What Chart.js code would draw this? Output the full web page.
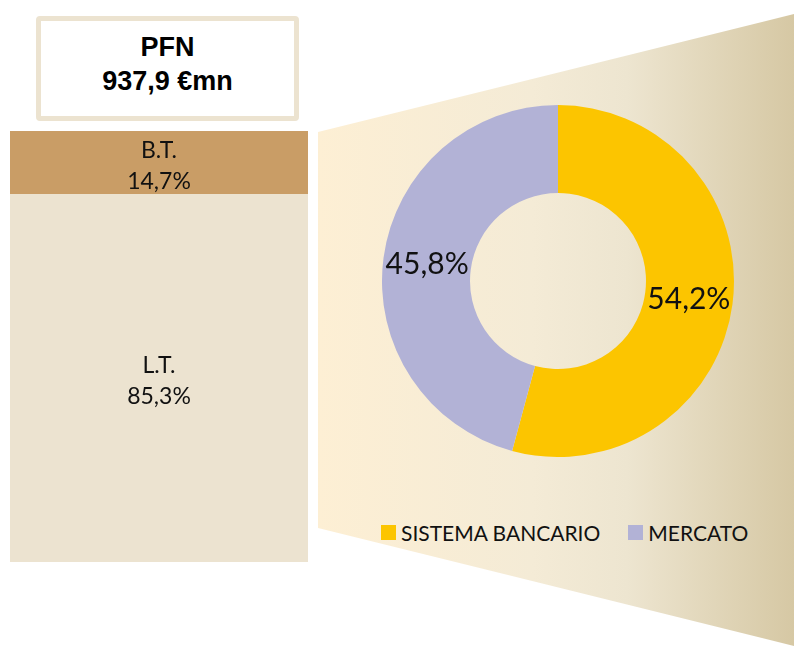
<!DOCTYPE html>
<html>
<head>
<meta charset="utf-8">
<script src="https://cdn.jsdelivr.net/npm/chart.js@4"></script>
<style>
  body { margin: 0; background: #fff; width: 794px; height: 646px; position: relative; overflow: hidden; font-family: Lato, "Open Sans", sans-serif; }
  #titleBox {
    position: absolute; left: 36px; top: 16px; width: 253px; height: 86px;
    border: 5px solid #ece3d0; border-radius: 4px; background: #fff;
    font-family: "Liberation Sans", Arial, sans-serif; font-weight: bold; font-size: 27px;
    text-align: center; line-height: 34px; padding-top: 9px; box-sizing: content-box;
  }
  #titleBox div { height: 34px; }
  #bg {
    position: absolute; left: 318px; top: 0; width: 476px; height: 646px;
    background: linear-gradient(to right, #fdefd4 0%, #f4ebd6 45%, #ede5d0 65%, #d6c8a4 100%);
    clip-path: polygon(0 132px, 476px 14px, 476px 646px, 0 528px);
  }
  #barWrap { position: absolute; left: 10px; top: 131px; width: 298px; height: 431px; }
  #pieWrap { position: absolute; left: 382px; top: 105px; width: 352px; height: 352px; }
  #legend { position: absolute; left: 381px; top: 520px; display: flex; font-size: 21px; color: #111; }
  #legend span.item { display: flex; align-items: center; margin-right: 28px; }
  #legend span.box { display: inline-block; width: 15px; height: 15px; margin-right: 5px; }
</style>
</head>
<body>
<div id="titleBox"></div>
<div id="bg"></div>
<div id="barWrap"><canvas id="barChart"></canvas></div>
<div id="pieWrap"><canvas id="pieChart"></canvas></div>
<div id="legend"></div>

<script>
// data
const titleLines = ["PFN", "937,9 €mn"];
const termLabels = ["L.T.", "B.T."];
const termValues = [85.3, 14.7];
const termColors = ["#ece3d0", "#c99d66"];

const sourceLabels = ["SISTEMA BANCARIO", "MERCATO"];
const sourceValues = [54.2, 45.8];
const sourceColors = ["#fcc500", "#b2b2d6"];

const fmt = (v) => v.toFixed(1).replace(".", ",") + "%";

// title box
document.getElementById("titleBox").innerHTML = titleLines.map((t) => `<div>${t}</div>`).join("");

// labels inside the elements
const innerLabels = {
  id: "innerLabels",
  afterDatasetsDraw(chart, args, opts) {
    const ctx = chart.ctx;
    ctx.save();
    ctx.fillStyle = "#111";
    ctx.textAlign = "center";
    ctx.textBaseline = "middle";
    ctx.font = opts.font;
    chart.data.datasets.forEach((ds, i) => {
      chart.getDatasetMeta(i).data.forEach((el, j) => {
        if (opts.mode === "bar") {
          const cy = (el.y + el.base) / 2 + 3;
          ctx.fillText(ds.label, el.x, cy - opts.lineH / 2);
          ctx.fillText(fmt(ds.data[j]), el.x, cy + opts.lineH / 2);
        } else {
          const p = el.tooltipPosition();
          ctx.fillText(fmt(ds.data[j]), p.x, p.y + 1);
        }
      });
    });
    ctx.restore();
  }
};

// stacked bar
new Chart(document.getElementById("barChart"), {
  type: "bar",
  data: {
    labels: ["PFN"],
    datasets: termLabels.map((l, i) => ({
      label: l,
      data: [termValues[i]],
      backgroundColor: termColors[i],
      borderWidth: 0,
      barPercentage: 1,
      categoryPercentage: 1
    }))
  },
  options: {
    responsive: true,
    maintainAspectRatio: false,
    animation: false,
    layout: { padding: 0 },
    scales: {
      x: { display: false, stacked: true },
      y: { display: false, stacked: true, min: 0, max: 100 }
    },
    plugins: {
      legend: { display: false },
      tooltip: { enabled: false },
      innerLabels: { mode: "bar", font: "23px Lato, 'Open Sans', sans-serif", lineH: 31 }
    }
  },
  plugins: [innerLabels]
});

// doughnut
new Chart(document.getElementById("pieChart"), {
  type: "doughnut",
  data: {
    labels: sourceLabels,
    datasets: [{
      data: sourceValues,
      backgroundColor: sourceColors,
      borderWidth: 0
    }]
  },
  options: {
    responsive: true,
    maintainAspectRatio: false,
    animation: false,
    cutout: "50%",
    layout: { padding: 0 },
    plugins: {
      legend: { display: false },
      tooltip: { enabled: false },
      innerLabels: { mode: "pie", font: "30px Lato, 'Open Sans', sans-serif" }
    }
  },
  plugins: [innerLabels]
});

// legend
document.getElementById("legend").innerHTML = sourceLabels
  .map((l, i) => `<span class="item"><span class="box" style="background:${sourceColors[i]}"></span>${l}</span>`)
  .join("");
</script>
</body>
</html>
